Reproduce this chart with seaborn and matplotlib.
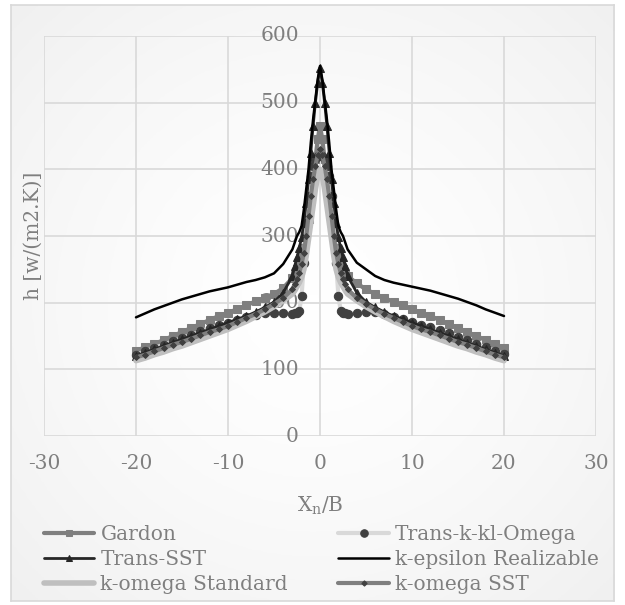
import numpy as np
import matplotlib.pyplot as plt
from matplotlib.colors import LinearSegmentedColormap
import seaborn as sns

# x positions (X_n/B): unit steps on the flanks, quarter steps around the jet axis
x_vals = [-20, -19, -18, -17, -16, -15, -14, -13, -12, -11, -10, -9, -8, -7, -6, -5, -4, -3,
          -2.75, -2.5, -2.25, -2, -1.75, -1.5, -1.25, -1, -0.75, -0.5, -0.25, 0,
          0.25, 0.5, 0.75, 1, 1.25, 1.5, 1.75, 2, 2.25, 2.5, 2.75,
          3, 4, 5, 6, 7, 8, 9, 10, 11, 12, 13, 14, 15, 16, 17, 18, 19, 20]

gardon = [128, 133, 138, 144, 150, 156, 162, 168, 174, 180, 185, 190, 196, 202, 207, 213, 222, 237,
          242, 250, 258, 268, 282, 300, 325, 355, 385, 415, 445, 465,
          445, 415, 385, 355, 325, 300, 282, 268, 258, 250, 242,
          240, 229, 220, 213, 207, 201, 196, 190, 185, 180, 174, 168, 162, 156, 150, 144, 138, 132]
trans_kkl = [122, 127, 132, 137, 142, 147, 152, 157, 162, 166, 170, 174, 178, 181, 184, 185, 184, 183,
             184, 185, 188, 210, 260, 320, 360, 390, 405, 415, 420, 420,
             420, 415, 405, 390, 360, 320, 260, 210, 188, 185, 184,
             183, 184, 186, 186, 183, 179, 175, 171, 167, 163, 159, 154, 149, 144, 138, 133, 128, 123]
trans_sst = [120, 125, 130, 135, 140, 145, 150, 155, 160, 165, 170, 175, 180, 186, 193, 201, 215, 240,
             255, 268, 282, 298, 320, 350, 385, 425, 465, 500, 530, 552,
             530, 500, 465, 425, 385, 350, 320, 298, 282, 268, 255,
             240, 215, 201, 193, 186, 180, 175, 170, 165, 160, 155, 150, 145, 140, 135, 130, 125, 120]
k_eps = [178, 184, 190, 195, 200, 205, 209, 213, 217, 220, 223, 227, 231, 234, 238, 244, 258, 280,
         290, 300, 306, 315, 340, 370, 400, 440, 475, 505, 535, 555,
         535, 505, 475, 440, 400, 370, 340, 315, 306, 300, 290,
         280, 260, 250, 240, 234, 230, 227, 224, 221, 218, 214, 210, 206, 201, 196, 190, 185, 180]
k_omega_std = [113, 117, 122, 126, 131, 135, 140, 145, 150, 155, 160, 166, 172, 179, 186, 194, 203, 213,
               218, 224, 230, 238, 250, 270, 295, 320, 345, 370, 390, 400,
               390, 370, 345, 320, 295, 270, 250, 238, 230, 224, 218,
               213, 203, 194, 186, 179, 172, 166, 160, 155, 150, 145, 140, 135, 131, 126, 122, 117, 113]
k_omega_sst = [118, 122, 127, 132, 137, 141, 146, 151, 156, 160, 165, 171, 177, 183, 190, 198, 207, 220,
               228, 236, 245, 258, 275, 300, 330, 360, 385, 405, 422, 430,
               422, 405, 385, 360, 330, 300, 275, 258, 245, 236, 228,
               220, 207, 198, 190, 183, 177, 171, 165, 160, 156, 151, 146, 141, 137, 132, 127, 122, 118]

y_ticks = [0, 100, 200, 300, 400, 500, 600]
x_ticks = [-30, -20, -10, 0, 10, 20, 30]

sns.set_theme(style="white")
plt.rcParams['font.family'] = ['DejaVu Serif']
plt.rcParams['axes.unicode_minus'] = False
FS = 14.5
GREY_TXT = '#7f7f7f'

fig = plt.figure(figsize=(6.25, 6.05), dpi=100)
fig.patch.set_facecolor('white')

# chart area: faint radial shading like the Excel chart background, with a thin border
bg = fig.add_axes([0.017, 0.006, 0.966, 0.986])
gy, gx = np.mgrid[-1:1:200j, -1:1:200j]
shade = np.clip(np.hypot(gx, gy) / 1.42, 0, 1) ** 1.5
bg.imshow(shade, cmap=LinearSegmentedColormap.from_list('bgshade', ['#ffffff', '#f0f0f0']),
          vmin=0, vmax=1, extent=[0, 1, 0, 1], aspect='auto')
bg.set_xticks([])
bg.set_yticks([])
for s in bg.spines.values():
    s.set_color('#d9d9d9')
    s.set_linewidth(1.2)
bg.set_zorder(-5)

ax = fig.add_axes([0.0704, 0.2793, 0.8832, 0.6612])
ax.set_zorder(2)
ax.set_facecolor('none')

series = [
    ('Gardon', gardon, dict(color='#7f7f7f', lw=3, marker='s', ms=5.5, mfc='#7f7f7f', mec='#7f7f7f')),
    ('Trans-k-kl-Omega', trans_kkl, dict(color='#d9d9d9', lw=3, marker='o', ms=6, mfc='#404040', mec='#404040')),
    ('Trans-SST', trans_sst, dict(color='#262626', lw=2, marker='^', ms=5.5, mfc='#262626', mec='#262626')),
    ('k-epsilon Realizable', k_eps, dict(color='black', lw=1.8)),
    ('k-omega Standard', k_omega_std, dict(color='#bfbfbf', lw=4)),
    ('k-omega SST', k_omega_sst, dict(color='#7f7f7f', lw=3, marker='D', ms=3, mfc='#404040', mec='#404040')),
]
for name, vals, kw in series:
    sns.lineplot(x=x_vals, y=vals, ax=ax, label=name, sort=False, zorder=3, **kw)

ax.set_xlim(-30, 30)
ax.set_ylim(0, 600)
ax.set_xticks(x_ticks)
ax.set_yticks(y_ticks)
ax.grid(True, color='#d9d9d9', lw=1.2)
ax.set_axisbelow(True)
for s in ax.spines.values():
    s.set_visible(False)
ax.tick_params(axis='both', colors=GREY_TXT, labelsize=FS, length=0)
ax.tick_params(axis='x', pad=13)
ax.set_yticklabels([])
# y tick labels sit just left of x = 0, where the value axis crosses
for v in y_ticks:
    ax.text(-2.3, v, str(v), ha='right', va='center', fontsize=FS, color=GREY_TXT, zorder=1)

ax.set_xlabel('')
ax.set_ylabel('')
fig.text(0.512, 0.154, r'X$_\mathregular{n}$/B', ha='center', va='baseline', fontsize=FS, color=GREY_TXT)
fig.text(0.053, 0.61, 'h [w/(m2.K)]', rotation=90, ha='center', va='center', fontsize=FS, color=GREY_TXT)

handles, labels = ax.get_legend_handles_labels()
ax.legend_.remove()
order = [0, 2, 4, 1, 3, 5]
fig.legend([handles[i] for i in order], [labels[i] for i in order], loc='upper left',
           bbox_to_anchor=(0.0704, 0.132), ncol=2, frameon=False, borderaxespad=0,
           fontsize=FS, labelcolor=GREY_TXT, handlelength=2.5, handletextpad=0.3,
           columnspacing=2.5, labelspacing=0.3, borderpad=0, markerscale=0.9)

fig.savefig('out.png', dpi=100)
